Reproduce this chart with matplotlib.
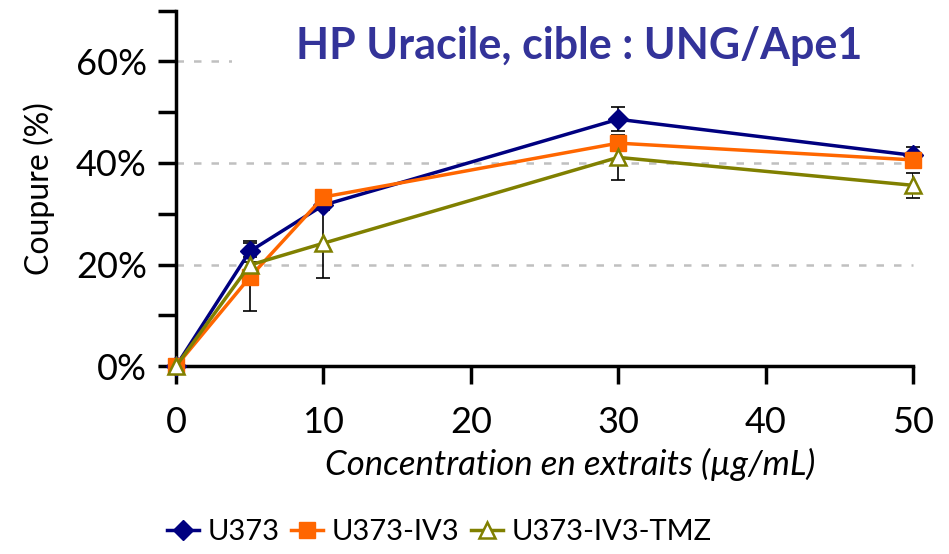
import matplotlib as mpl
mpl.use('Agg')
import numpy as np
import matplotlib.pyplot as plt
from matplotlib.ticker import MultipleLocator, FuncFormatter

mpl.rcParams['font.family'] = ['Lato', 'DejaVu Sans']

# extract concentration (ug/mL)
conc = [0, 5, 10, 30, 50]

# cleavage (%) and error bars
u373 = [0, 22.6, 31.7, 48.6, 41.5]
u373_err = [0, 2.0, 1.0, 2.4, 1.6]
iv3 = [0, 17.5, 33.3, 43.9, 40.6]
iv3_err = [0, 6.7, 1.0, 1.5, 1.0]
tmz = [0, 19.9, 24.2, 41.1, 35.6]
tmz_err = [0, 1.5, 6.8, 4.5, 2.4]

labels = ['U373', 'U373-IV3', 'U373-IV3-TMZ']

fig = plt.figure(figsize=(9.49, 5.54), dpi=100)
ax = fig.add_axes([0.1855, 0.339, 0.7765, 0.642])

ax.errorbar(conc, u373, yerr=u373_err, fmt='none', ecolor='black', elinewidth=1.2, capsize=5, capthick=1.2, zorder=3)
ax.errorbar(conc, iv3, yerr=iv3_err, fmt='none', ecolor='black', elinewidth=1.2, capsize=5, capthick=1.2, zorder=3)
ax.errorbar(conc, tmz, yerr=tmz_err, fmt='none', ecolor='black', elinewidth=1.2, capsize=5, capthick=1.2, zorder=3)

ax.plot(conc, u373, color='#000080', lw=2.5, marker='D', ms=10, mfc='#000080', mec='#000080', label=labels[0], zorder=4)
ax.plot(conc, iv3, color='#ff6600', lw=2.5, marker='s', ms=11, mfc='#ff6600', mec='#ff6600', label=labels[1], zorder=5)
ax.plot(conc, tmz, color='#808000', lw=2.5, marker='^', ms=12, mfc='white', mec='#808000', mew=1.8, label=labels[2], zorder=6)

for g in [20, 40, 60]:
    ax.axhline(g, color='#c0c0c0', lw=1.8, ls=(0, (3, 4)), zorder=0)

ax.set_xlim(0, 50)
ax.set_ylim(0, 70)
ax.set_xticks([0, 10, 20, 30, 40, 50])
ax.yaxis.set_major_locator(MultipleLocator(20))
ax.yaxis.set_minor_locator(MultipleLocator(10))
ax.yaxis.set_major_formatter(FuncFormatter(lambda v, p: '%d%%' % v))
ax.tick_params(axis='both', which='both', direction='out', width=2.5, length=13, labelsize=26)
ax.tick_params(axis='y', pad=8)
ax.tick_params(axis='x', pad=16)
for s in ['top', 'right']:
    ax.spines[s].set_visible(False)
for s in ['left', 'bottom']:
    ax.spines[s].set_linewidth(2.5)
for l in ax.lines:
    l.set_clip_on(False)

ax.set_ylabel('Coupure (%)', fontsize=23)
ax.yaxis.set_label_coords(-0.164, 0.5)
ax.set_xlabel('Concentration en extraits (µg/mL)', fontsize=25, style='italic')
ax.xaxis.set_label_coords(0.535, -0.23)

ax.text(0.547, 0.9, 'HP Uracile, cible : UNG/Ape1', transform=ax.transAxes, ha='center', va='center',
        fontsize=31, fontweight='bold', color='#333399', zorder=1.5,
        bbox=dict(fc='white', ec='none', pad=46))

fig.legend(loc='center', bbox_to_anchor=(0.463, 0.04), ncol=3, frameon=False, fontsize=21,
           handlelength=1.1, handletextpad=0.3, columnspacing=0.4)

plt.savefig('out.png', dpi=100)
plt.close()
